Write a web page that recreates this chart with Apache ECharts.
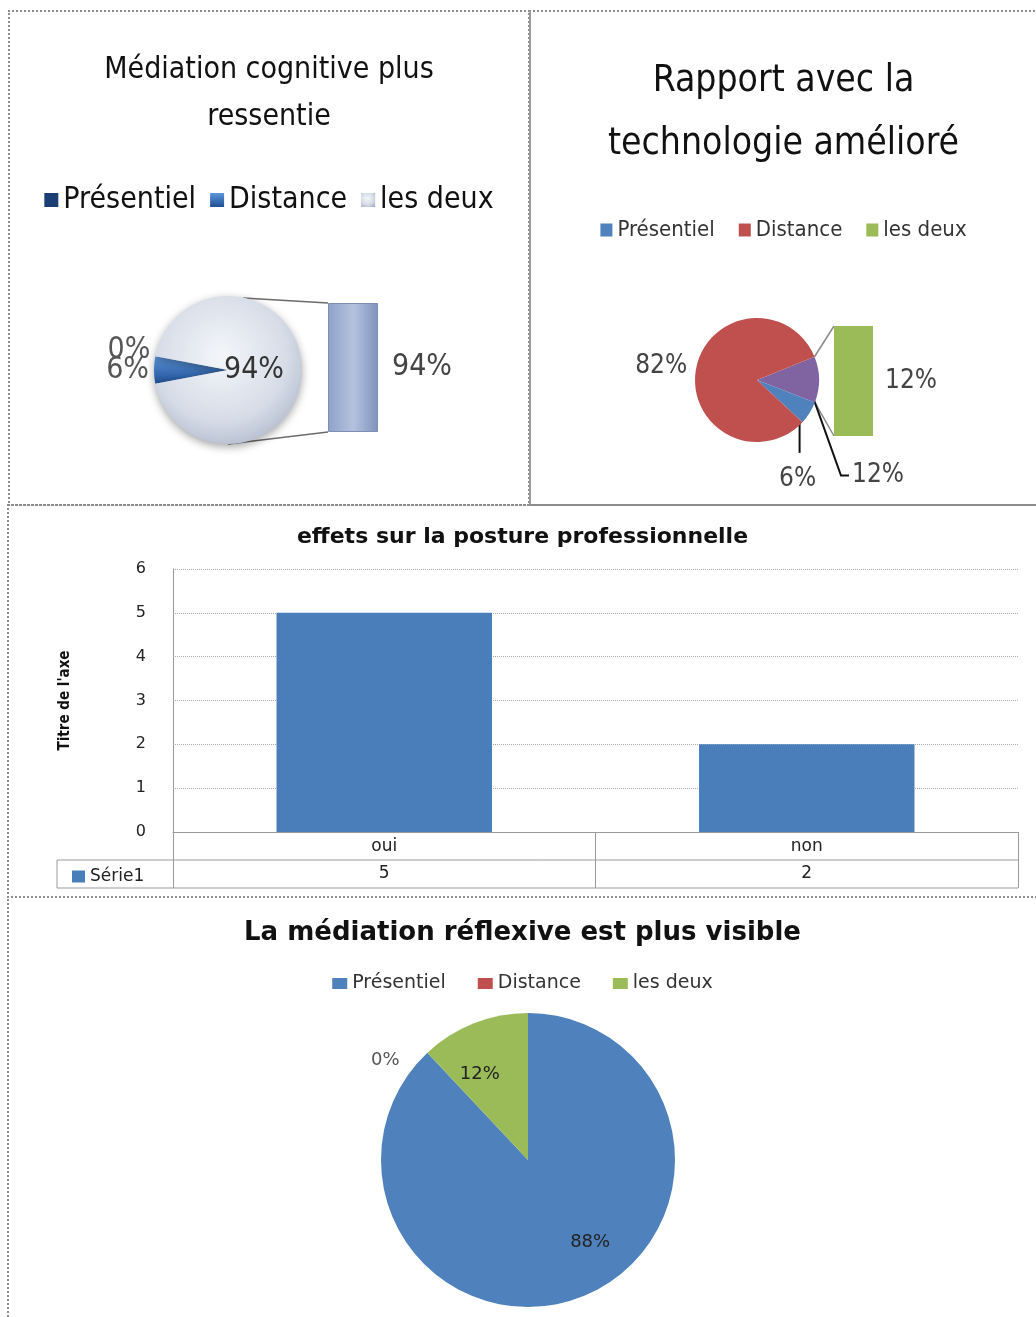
<!DOCTYPE html>
<html>
<head>
<meta charset="utf-8">
<script src="https://cdn.jsdelivr.net/npm/echarts@6/dist/echarts.min.js"></script>
<style>
  body { margin: 0; background: #fff; }
  .frame { position: absolute; box-sizing: border-box; border: 2px dotted #8c8c8c; }
  .chart { position: absolute; }
  #f1 { left: 8px; top: 10px; width: 522px; height: 496px; }
  #f2 { left: 529px; top: 10px; width: 530px; height: 496px; border-left: 2px solid #9a9a9a; }
  #f3 { left: 7px; top: 504px; width: 1050px; height: 394px; }
  #f4 { left: 7px; top: 896px; width: 1050px; height: 440px; }
  #c1 { left: 10px; top: 12px; width: 518px; height: 492px; }
  #c2 { left: 531px; top: 12px; width: 505px; height: 492px; }
  #c3 { left: 9px; top: 506px; width: 1027px; height: 390px; }
  #c4 { left: 9px; top: 898px; width: 1027px; height: 419px; }
</style>
</head>
<body>
<div class="frame" id="f1"></div>
<div class="frame" id="f2"></div>
<div class="frame" id="f3"></div>
<div class="frame" id="f4"></div>
<div class="chart" id="c1"></div>
<div class="chart" id="c2"></div>
<div class="chart" id="c3"></div>
<div class="chart" id="c4"></div>
<script>
// legend labels shared by the three pies
var legendNames = ['Présentiel', 'Distance', 'les deux'];

// 1 - Médiation cognitive plus ressentie (secteur + barre de détail)
var cogNames = ['Présentiel', 'Distance', 'les deux'];
var cogValues = [0, 6, 94];
var cogDetail = [94];

// 2 - Rapport avec la technologie amélioré
var techNames = ['Autre', 'Présentiel', 'Distance'];
var techValues = [12, 6, 82];
var techDetailNames = ['les deux'];
var techDetail = [12];

// 3 - effets sur la posture professionnelle
var postureCats = ['oui', 'non'];
var postureValues = [5, 2];
var postureTicks = { min: 0, max: 6, interval: 1 };

// 4 - La médiation réflexive est plus visible
var reflexNames = ['Présentiel', 'Distance', 'les deux'];
var reflexValues = [88, 0, 12];

var NARROW = '"Liberation Sans Narrow", "DejaVu Sans Condensed", sans-serif';
var WIDE = '"DejaVu Sans", sans-serif';

var colors = {
  'Présentiel': '#4f81bd',
  'Distance': '#c0504d',
  'les deux': '#9bbb59',
  'Autre': '#8064a2'
};

function toPoint (c, r, deg) {
  var a = deg * Math.PI / 180;
  return [c[0] + r * Math.cos(a), c[1] - r * Math.sin(a)];
}

// ---------- chart 1 ----------
var c1 = echarts.init(document.getElementById('c1'));
var pie1C = [218, 358];
var pie1R = 74;
var bar1 = { left: 318, top: 291, width: 50, height: 129 };
var cogColors = {
  'Présentiel': '#1c3f73',
  'Distance': new echarts.graphic.LinearGradient(0, 0, 0, 1, [
    { offset: 0, color: '#5d97dc' }, { offset: 1, color: '#1f4f95' }
  ]),
  'les deux': new echarts.graphic.RadialGradient(0.45, 0.4, 0.75, [
    { offset: 0, color: '#f4f6fa' }, { offset: 0.6, color: '#d6dce7' }, { offset: 1, color: '#a3adc1' }
  ])
};
var cogStart = 180 - cogValues[1] / 100 * 180;

c1.setOption({
  animation: false,
  title: {
    text: 'Médiation cognitive plus\nressentie',
    left: 'center',
    top: 30,
    textStyle: { fontFamily: NARROW, fontSize: 30, fontWeight: 'normal', color: '#111', lineHeight: 47 }
  },
  legend: {
    data: legendNames,
    top: 168,
    left: 'center',
    icon: 'rect',
    itemWidth: 14,
    itemHeight: 14,
    itemGap: 14,
    textStyle: { fontFamily: NARROW, fontSize: 30, color: '#111' }
  },
  grid: { left: bar1.left, top: bar1.top, width: bar1.width, height: bar1.height },
  xAxis: { type: 'category', data: ['les deux'], show: false },
  yAxis: { type: 'value', min: 0, max: cogDetail[0], show: false },
  graphic: [
    {
      type: 'line',
      shape: { x1: pie1C[0] + 15, y1: pie1C[1] - pie1R + 2, x2: bar1.left, y2: bar1.top },
      style: { stroke: '#6b6b6b', lineWidth: 1.5 }
    },
    {
      type: 'line',
      shape: { x1: pie1C[0], y1: pie1C[1] + pie1R, x2: bar1.left, y2: bar1.top + bar1.height },
      style: { stroke: '#6b6b6b', lineWidth: 1.5 }
    }
  ],
  series: [
    {
      type: 'pie',
      center: pie1C,
      radius: pie1R,
      startAngle: cogStart,
      clockwise: false,
      avoidLabelOverlap: false,
      percentPrecision: 0,
      itemStyle: { shadowBlur: 8, shadowColor: 'rgba(0,0,0,0.35)', shadowOffsetY: 3 },
      label: { formatter: '{d}%', fontFamily: NARROW, fontSize: 30, color: '#555' },
      labelLine: { show: false, length: 0, length2: 0 },
      labelLayout: function (p) {
        if (p.dataIndex === 2) return { dx: -14, hideOverlap: false };
        if (p.dataIndex === 0) return { dy: -6, hideOverlap: false };
        return { hideOverlap: false };
      },
      data: cogNames.map(function (n, i) {
        var item = { name: n, value: cogValues[i], itemStyle: { color: cogColors[n] } };
        if (n === 'les deux') item.label = { position: 'inside', color: '#333' };
        return item;
      })
    },
    {
      type: 'bar',
      name: 'détail',
      data: cogDetail,
      barWidth: '100%',
      itemStyle: {
        color: new echarts.graphic.LinearGradient(0, 0, 1, 0, [
          { offset: 0, color: '#8ea2c9' }, { offset: 0.5, color: '#b3c2de' }, { offset: 1, color: '#8093bd' }
        ]),
        borderColor: '#7d8fb5',
        borderWidth: 1
      },
      label: {
        show: true,
        position: 'right',
        distance: 14,
        formatter: '{c}%',
        fontFamily: NARROW,
        fontSize: 30,
        color: '#444'
      }
    }
  ]
});

// ---------- chart 2 ----------
var c2 = echarts.init(document.getElementById('c2'));
var pie2C = [226, 368];
var pie2R = 62;
var pie2Start = 22;
var bar2 = { left: 303, top: 314, width: 39, height: 110 };
var techTotal = techValues.reduce(function (a, b) { return a + b; }, 0);
var otherEnd = pie2Start - techValues[0] / techTotal * 360;
var pTop = toPoint(pie2C, pie2R, pie2Start);
var pBottom = toPoint(pie2C, pie2R, otherEnd);

c2.setOption({
  animation: false,
  title: {
    text: 'Rapport avec la\ntechnologie amélioré',
    left: 'center',
    top: 33,
    textStyle: { fontFamily: NARROW, fontSize: 37, fontWeight: 'normal', color: '#111', lineHeight: 63 }
  },
  legend: {
    data: legendNames,
    top: 202,
    left: 'center',
    icon: 'rect',
    itemWidth: 12,
    itemHeight: 13,
    itemGap: 24,
    textStyle: { fontFamily: NARROW, fontSize: 22, color: '#333' }
  },
  grid: { left: bar2.left, top: bar2.top, width: bar2.width, height: bar2.height },
  xAxis: { type: 'category', data: techDetailNames, show: false },
  yAxis: { type: 'value', min: 0, max: techDetail[0], show: false },
  graphic: [
    {
      type: 'line',
      shape: { x1: pTop[0], y1: pTop[1], x2: bar2.left, y2: bar2.top },
      style: { stroke: '#8a8a8a', lineWidth: 1.5 }
    },
    {
      type: 'line',
      shape: { x1: pBottom[0], y1: pBottom[1], x2: bar2.left, y2: bar2.top + bar2.height },
      style: { stroke: '#8a8a8a', lineWidth: 1.5 }
    }
  ],
  series: [
    {
      type: 'pie',
      center: pie2C,
      radius: pie2R,
      startAngle: pie2Start,
      avoidLabelOverlap: false,
      percentPrecision: 0,
      label: { formatter: '{d}%', fontFamily: NARROW, fontSize: 26, color: '#444' },
      labelLine: { show: true, length: 10, length2: 10, lineStyle: { color: '#111', width: 2 } },
      labelLayout: function (p) {
        var pts = p.labelLinePoints;
        if (!pts) return {};
        var s = pts[0];
        if (p.dataIndex === 0) {
          return {
            x: s[0] + 33, y: s[1] + 96, align: 'left', verticalAlign: 'middle',
            labelLinePoints: [[s[0] - 8, s[1] + 12], [s[0] + 22, s[1] + 96], [s[0] + 30, s[1] + 96]]
          };
        }
        if (p.dataIndex === 1) {
          return {
            x: s[0] - 12, y: s[1] + 66, align: 'center', verticalAlign: 'middle',
            labelLinePoints: [[s[0] - 10, s[1] + 10], [s[0] - 10, s[1] + 40], [s[0] - 10, s[1] + 40]]
          };
        }
        return { dx: 8 };
      },
      data: techNames.map(function (n, i) {
        var item = { name: n, value: techValues[i], itemStyle: { color: colors[n] } };
        if (n === 'Distance') item.labelLine = { show: false, length: 12, length2: 0 };
        return item;
      })
    },
    {
      type: 'bar',
      name: 'les deux',
      data: techDetail,
      barWidth: '100%',
      itemStyle: { color: colors['les deux'] },
      label: {
        show: true,
        position: 'right',
        distance: 12,
        formatter: '{c}%',
        fontFamily: NARROW,
        fontSize: 26,
        color: '#444'
      }
    }
  ]
});

// ---------- chart 3 ----------
var c3 = echarts.init(document.getElementById('c3'));
var grid3 = { left: 164, right: 18, top: 63, bottom: 64 };

c3.setOption({
  animation: false,
  title: {
    text: 'effets sur la posture professionnelle',
    left: 'center',
    top: 15,
    textStyle: { fontFamily: WIDE, fontSize: 22, fontWeight: 'bold', color: '#111' }
  },
  legend: {
    data: ['Série1'],
    left: 58,
    top: 357,
    icon: 'rect',
    itemWidth: 13,
    itemHeight: 12,
    itemGap: 4,
    textStyle: { fontFamily: WIDE, fontSize: 17, color: '#222' }
  },
  grid: grid3,
  xAxis: [
    {
      type: 'category',
      data: postureCats,
      axisLine: { lineStyle: { color: '#9a9a9a' } },
      axisTick: { show: true, length: 56, lineStyle: { color: '#9a9a9a' } },
      axisLabel: { margin: 6, fontFamily: WIDE, fontSize: 17, color: '#222' }
    },
    {
      type: 'category',
      position: 'bottom',
      offset: 28,
      data: postureValues.map(String),
      axisLine: { show: false },
      axisTick: { show: false },
      axisLabel: { margin: 5, fontFamily: WIDE, fontSize: 17, color: '#222' }
    }
  ],
  yAxis: {
    type: 'value',
    min: postureTicks.min,
    max: postureTicks.max,
    interval: postureTicks.interval,
    name: "Titre de l'axe",
    nameLocation: 'middle',
    nameRotate: 90,
    nameGap: 100,
    nameTextStyle: { fontFamily: NARROW, fontSize: 15, fontWeight: 'bold', color: '#111' },
    axisLine: { show: true, lineStyle: { color: '#9a9a9a' } },
    axisLabel: { margin: 27, fontFamily: WIDE, fontSize: 16, color: '#222' },
    splitLine: { lineStyle: { color: '#a8a8a8', type: 'dotted' } }
  },
  graphic: [
    { type: 'line', shape: { x1: 48, y1: 354, x2: 1009, y2: 354 }, style: { stroke: '#9a9a9a', lineWidth: 1 } },
    { type: 'line', shape: { x1: 48, y1: 382, x2: 1009, y2: 382 }, style: { stroke: '#9a9a9a', lineWidth: 1 } },
    { type: 'line', shape: { x1: 48, y1: 354, x2: 48, y2: 382 }, style: { stroke: '#9a9a9a', lineWidth: 1 } }
  ],
  series: [
    {
      type: 'bar',
      name: 'Série1',
      data: postureValues,
      barWidth: '51%',
      itemStyle: { color: '#4a7ebb' }
    }
  ]
});

// ---------- chart 4 ----------
var c4 = echarts.init(document.getElementById('c4'));

c4.setOption({
  animation: false,
  title: {
    text: 'La médiation réflexive est plus visible',
    left: 'center',
    top: 17,
    textStyle: { fontFamily: WIDE, fontSize: 26, fontWeight: 'bold', color: '#111' }
  },
  legend: {
    data: legendNames,
    top: 71,
    left: 'center',
    icon: 'rect',
    itemWidth: 15,
    itemHeight: 11,
    itemGap: 32,
    textStyle: { fontFamily: WIDE, fontSize: 19, color: '#333' }
  },
  series: [
    {
      type: 'pie',
      center: [519, 262],
      radius: 147,
      startAngle: 90,
      avoidLabelOverlap: false,
      percentPrecision: 0,
      label: { position: 'inside', formatter: '{d}%', fontFamily: WIDE, fontSize: 18, color: '#222' },
      labelLine: { show: false, length: 4, length2: 2 },
      labelLayout: function (p) {
        if (p.dataIndex === 0) return { dx: 34, dy: 11 };
        if (p.dataIndex === 1) return { dx: -18, dy: 10 };
        return { dx: -20, dy: -15 };
      },
      data: reflexNames.map(function (n, i) {
        var item = { name: n, value: reflexValues[i], itemStyle: { color: colors[n] } };
        if (n === 'Distance') item.label = { position: 'outside', color: '#555' };
        return item;
      })
    }
  ]
});

window.onresize = function () {
  c1.resize();
  c2.resize();
  c3.resize();
  c4.resize();
};
</script>
</body>
</html>
